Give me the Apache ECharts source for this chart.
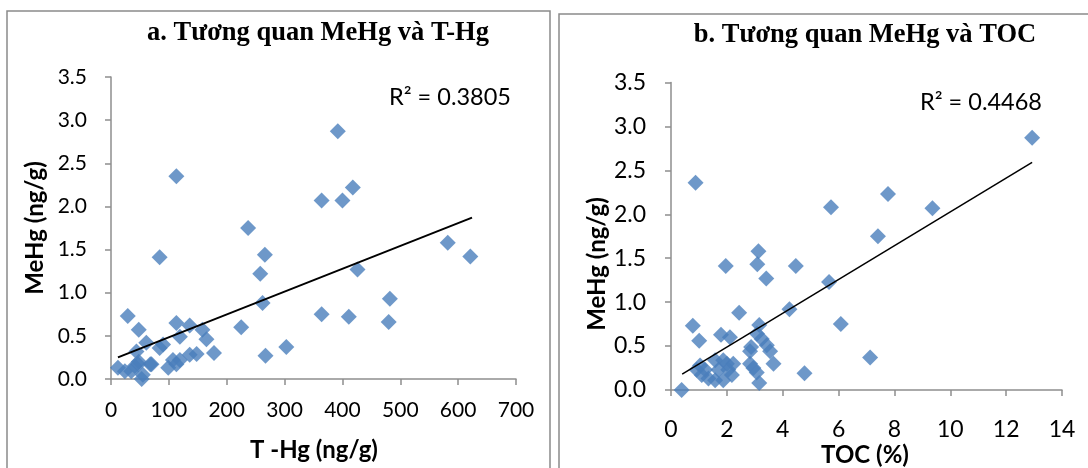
<!DOCTYPE html>
<html><head><meta charset="utf-8">
<script src="https://cdn.jsdelivr.net/npm/echarts@6/dist/echarts.min.js"></script>
<style>html,body{margin:0;padding:0;background:#fff}#c{width:1088px;height:468px}</style>
</head><body><div id="c"></div>
<script>
// Panel a: T-Hg (ng/g) vs MeHg (ng/g)
const thgX = [12,24,35,29,48,61,44,48,41,53,68,84,84,90,113,113,119,136,158,165,99,107,119,113,136,148,178,225,237,258,266,262,267,303,364,364,392,400,418,426,411,582,621,482,480,47,55,70];
const thgY = [0.13,0.09,0.09,0.73,0.57,0.42,0.32,0.20,0.15,0.00,0.17,1.41,0.36,0.40,2.35,0.65,0.49,0.62,0.57,0.46,0.13,0.22,0.22,0.17,0.28,0.29,0.30,0.60,1.75,1.22,1.44,0.88,0.27,0.37,2.07,0.75,2.87,2.07,2.22,1.27,0.72,1.58,1.42,0.93,0.66,0.17,0.05,0.17];
const trendA = [[12,0.25],[624,1.87]];
const r2A = 'R² = 0.3805';
// Panel b: TOC (%) vs MeHg (ng/g)
const tocX = [0.38,0.88,7.77,5.73,9.36,12.93,7.41,3.13,3.09,1.96,4.47,3.41,5.66,4.24,2.44,6.08,0.78,3.16,1.01,1.79,2.11,3.08,3.25,3.43,2.87,2.83,3.55,3.67,2.83,2.95,3.07,3.16,4.78,7.13,1.04,0.92,1.22,1.34,1.10,1.58,1.87,2.00,2.23,1.70,2.05,1.58,1.87,2.18];
const tocY = [0.00,2.36,2.23,2.08,2.07,2.87,1.75,1.58,1.43,1.41,1.41,1.27,1.23,0.92,0.88,0.75,0.73,0.74,0.56,0.63,0.60,0.64,0.58,0.51,0.49,0.44,0.44,0.30,0.30,0.25,0.20,0.08,0.19,0.37,0.28,0.23,0.23,0.13,0.17,0.34,0.34,0.30,0.30,0.23,0.23,0.11,0.11,0.17];
const trendB = [[0.40,0.18],[12.93,2.59]];
const r2B = 'R² = 0.4468';
const yTicks = {min:0,max:3.5,interval:0.5};
const titles = ['a. Tương quan MeHg và T-Hg','b. Tương quan MeHg và TOC'];
const xNames = ['T -Hg (ng/g)','TOC (%)'];
const yName = 'MeHg (ng/g)';

const pts = (xs,ys)=>xs.map((x,i)=>[x,ys[i]]);
const blue = '#4A7EBB';
const axisCol = '#8E8E8E';
const sans = 'Lato';
function xAx(gi,max,interval,fs,m){return {type:'value',gridIndex:gi,min:0,max:max,interval:interval,
  axisLine:{show:true,lineStyle:{color:axisCol,width:1.5}},axisTick:{show:true,inside:false,length:6,lineStyle:{color:axisCol,width:1.5}},
  splitLine:{show:false},axisLabel:{color:'#000',fontFamily:sans,fontSize:fs,margin:m}};}
function yAx(gi,fs,m){return {type:'value',gridIndex:gi,min:yTicks.min,max:yTicks.max,interval:yTicks.interval,
  axisLine:{show:true,lineStyle:{color:axisCol,width:1.5}},axisTick:{show:true,inside:false,length:6,lineStyle:{color:axisCol,width:1.5}},
  splitLine:{show:false},axisLabel:{color:'#000',fontFamily:sans,fontSize:fs,margin:m,formatter:v=>v.toFixed(1)}};}
const chart = echarts.init(document.getElementById('c'),null,{renderer:'canvas'});
chart.setOption({
  animation:false,
  grid:[{left:111,top:77,width:405,height:302},{left:671,top:82.5,width:391,height:307.5}],
  xAxis:[xAx(0,700,100,21,21),xAx(1,14,2,23,28)],
  yAxis:[yAx(0,21,24),yAx(1,23,25)],
  series:[
    {type:'scatter',xAxisIndex:0,yAxisIndex:0,symbol:'diamond',symbolSize:16,itemStyle:{color:blue},data:pts(thgX,thgY)},
    {type:'line',xAxisIndex:0,yAxisIndex:0,symbol:'none',lineStyle:{color:'#000',width:2},data:trendA,z:5},
    {type:'scatter',xAxisIndex:1,yAxisIndex:1,symbol:'diamond',symbolSize:16,itemStyle:{color:blue},data:pts(tocX,tocY)},
    {type:'line',xAxisIndex:1,yAxisIndex:1,symbol:'none',lineStyle:{color:'#000',width:1.5},data:trendB,z:5}
  ],
  graphic:[
    {type:'rect',shape:{x:7,y:11,width:543,height:470},style:{fill:'none',stroke:'#8a8a8a',lineWidth:1.5},silent:true},
    {type:'rect',shape:{x:559,y:14,width:540,height:470},style:{fill:'none',stroke:'#8a8a8a',lineWidth:1.5},silent:true},
    {type:'text',x:318,y:33,style:{text:titles[0],font:'bold 26.5px "Liberation Serif"',fill:'#000',textAlign:'center',textVerticalAlign:'middle'}},
    {type:'text',x:865,y:35,style:{text:titles[1],font:'bold 26.5px "Liberation Serif"',fill:'#000',textAlign:'center',textVerticalAlign:'middle'}},
    {type:'text',x:450,y:97,style:{text:r2A,font:'23.5px Lato',fill:'#000',textAlign:'center',textVerticalAlign:'middle'}},
    {type:'text',x:981,y:102,style:{text:r2B,font:'23.5px Lato',fill:'#000',textAlign:'center',textVerticalAlign:'middle'}},
    {type:'text',x:314,y:450,style:{text:xNames[0],font:'bold 24px Lato',fill:'#000',textAlign:'center',textVerticalAlign:'middle'}},
    {type:'text',x:865,y:455,style:{text:xNames[1],font:'bold 24px Lato',fill:'#000',textAlign:'center',textVerticalAlign:'middle'}},
    {type:'text',x:35,y:228,rotation:Math.PI/2,style:{text:yName,font:'bold 24px Lato',fill:'#000',textAlign:'center',textVerticalAlign:'middle'}},
    {type:'text',x:597,y:264,rotation:Math.PI/2,style:{text:yName,font:'bold 24px Lato',fill:'#000',textAlign:'center',textVerticalAlign:'middle'}}
  ]
});
</script></body></html>
